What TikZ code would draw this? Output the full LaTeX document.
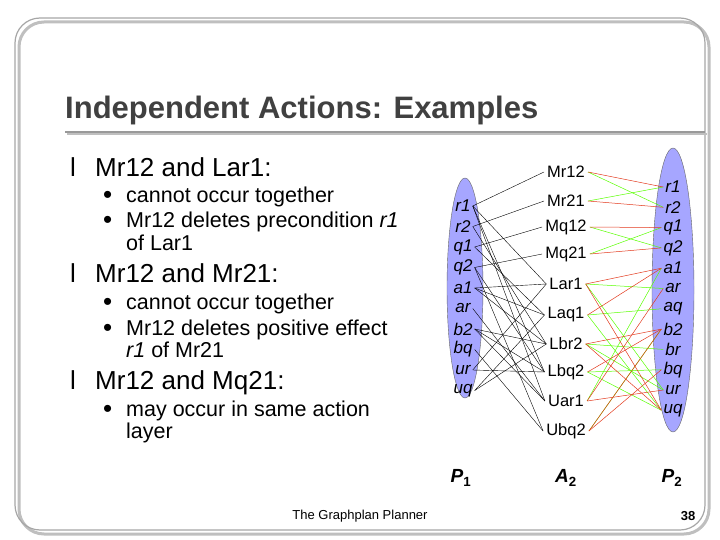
\documentclass[tikz,border=0pt]{standalone}
\usepackage{fontspec}
\setmainfont{Liberation Sans}
\begin{document}
\begin{tikzpicture}[x=1pt,y=-1pt,
 t/.style={inner sep=0pt,anchor=base west},
 main/.style={t,font=\fontsize{26}{28}\selectfont},
 sub/.style={t,font=\fontsize{21.5}{23}\selectfont},
 bul/.style={t,font=\fontsize{26}{26}\selectfont},
 act/.style={inner sep=3pt,font=\fontsize{16.5}{18}\selectfont},
 prop/.style={inner sep=2pt,font=\fontsize{17}{18}\selectfont\itshape},
 ln/.style={black,line width=0.4pt},
 ad/.style={green!65!yellow,line width=0.5pt},
 de/.style={red!55!brown,line width=0.5pt}]
\useasboundingbox (0,0) rectangle (720,540);
\draw[gray!50,line width=3pt,rounded corners=25pt] (19,22) rectangle (709,534);
\draw[gray!70,line width=1.2pt,rounded corners=25pt] (15,18) rectangle (705,530);
\node[t,font=\fontsize{31}{34}\selectfont\bfseries,text=black!75] (title) at (65,119) {Independent Actions: Examples};
\draw[gray!50,line width=2pt] (67,134) -- (707,134);
\draw[gray!80,line width=1.2pt] (65,132) -- (705,132);
% text
\node[main] (b1) at (70,177) {l};
\node[main] (m1) at (95,177) {Mr12 and Lar1:};
\node[bul] (s1a) at (103,204) {\textbullet};
\node[sub] (s1) at (126,203) {cannot occur together};
\node[bul] (s2a) at (103,229) {\textbullet};
\node[sub] (s2) at (126,228) {Mr12 deletes precondition \textit{r1}};
\node[sub] (s3) at (126,250) {of Lar1};
\node[main] (b2) at (70,282) {l};
\node[main] (m2) at (95,282) {Mr12 and Mr21:};
\node[bul] (s4a) at (103,310) {\textbullet};
\node[sub] (s4) at (126,309) {cannot occur together};
\node[bul] (s5a) at (103,336) {\textbullet};
\node[sub] (s5) at (126,335) {Mr12 deletes positive effect};
\node[sub] (s6) at (126,357) {\textit{r1} of Mr21};
\node[main] (b3) at (70,389) {l};
\node[main] (m3) at (95,389) {Mr12 and Mq21:};
\node[bul] (s7a) at (103,417) {\textbullet};
\node[sub] (s7) at (126,416) {may occur in same action};
\node[sub] (s8) at (126,438) {layer};
% ellipses
\fill[blue!35!white] (465,288) ellipse (18 and 110);
\draw[black!60] (465,288) ellipse (18 and 110);
\fill[blue!35!white] (673,290) ellipse (21 and 142);
\draw[black!60] (673,290) ellipse (21 and 142);
\foreach \n [count=\i from 0] in {r1,r2,q1,q2,a1,ar,b2,bq,ur,uq}
  \node[prop] (L\n) at (463,{206+20.5*\i}) {\n};
\foreach \n [count=\i from 0] in {r1,r2,q1,q2,a1,ar,aq,b2,br,bq,ur,uq}
  \node[prop] (R\n) at (673,{187+20.3*\i}) {\n};
\foreach \n/\y in {Mr12/172,Mr21/201,Mq12/227,Mq21/254,Lar1/284,Laq1/315,Lbr2/344,Lbq2/372,Uar1/401,Ubq2/431}
  \node[act] (A\n) at (566,\y) {\n};
% preconditions
\foreach \p/\a in {r1/Mr12,r2/Mr21,q1/Mq12,q2/Mq21,r1/Lar1,a1/Lar1,a1/Laq1,q1/Laq1,r2/Lbr2,b2/Lbr2,b2/Lbq2,q2/Lbq2,r1/Uar1,ar/Uar1,q2/Ubq2,bq/Ubq2,ur/Lar1,uq/Laq1,uq/Lbr2,ur/Lbq2,r1/Lbq2,a1/Lbr2,b2/Uar1}
  \draw[ln] (L\p.east) -- (A\a.west);
% effects
\foreach \a/\p in {Mr12/r2,Mr21/r1,Mq12/q2,Mq21/q1,Lar1/ar,Laq1/aq,Lbr2/br,Lbq2/bq,Uar1/a1,Ubq2/b2,Lar1/ur,Laq1/uq,Lbr2/ur,Lbq2/uq}
  \draw[ad] (A\a.east) -- (R\p.west);
\foreach \a/\p in {Mr12/r1,Mr21/r2,Mq12/q1,Mq21/q2,Lar1/a1,Laq1/a1,Lbr2/b2,Lbq2/b2,Uar1/ar,Ubq2/bq,Lar1/uq,Uar1/ur,Lbr2/uq,Ubq2/b2}
  \draw[de] (A\a.east) -- (R\p.west);
\node[font=\fontsize{19}{20}\selectfont\bfseries\itshape] (P1) at (461,478) {P$_{\mathbf 1}$};
\node[font=\fontsize{19}{20}\selectfont\bfseries\itshape] (A2) at (566,478) {A$_{\mathbf 2}$};
\node[font=\fontsize{19}{20}\selectfont\bfseries\itshape] (P2) at (672,478) {P$_{\mathbf 2}$};
\node[font=\fontsize{13}{14}\selectfont] (foot) at (360,516) {The Graphplan Planner};
\node[font=\fontsize{13}{14}\selectfont\bfseries] (num) at (688,516) {38};
\end{tikzpicture}
\end{document}
